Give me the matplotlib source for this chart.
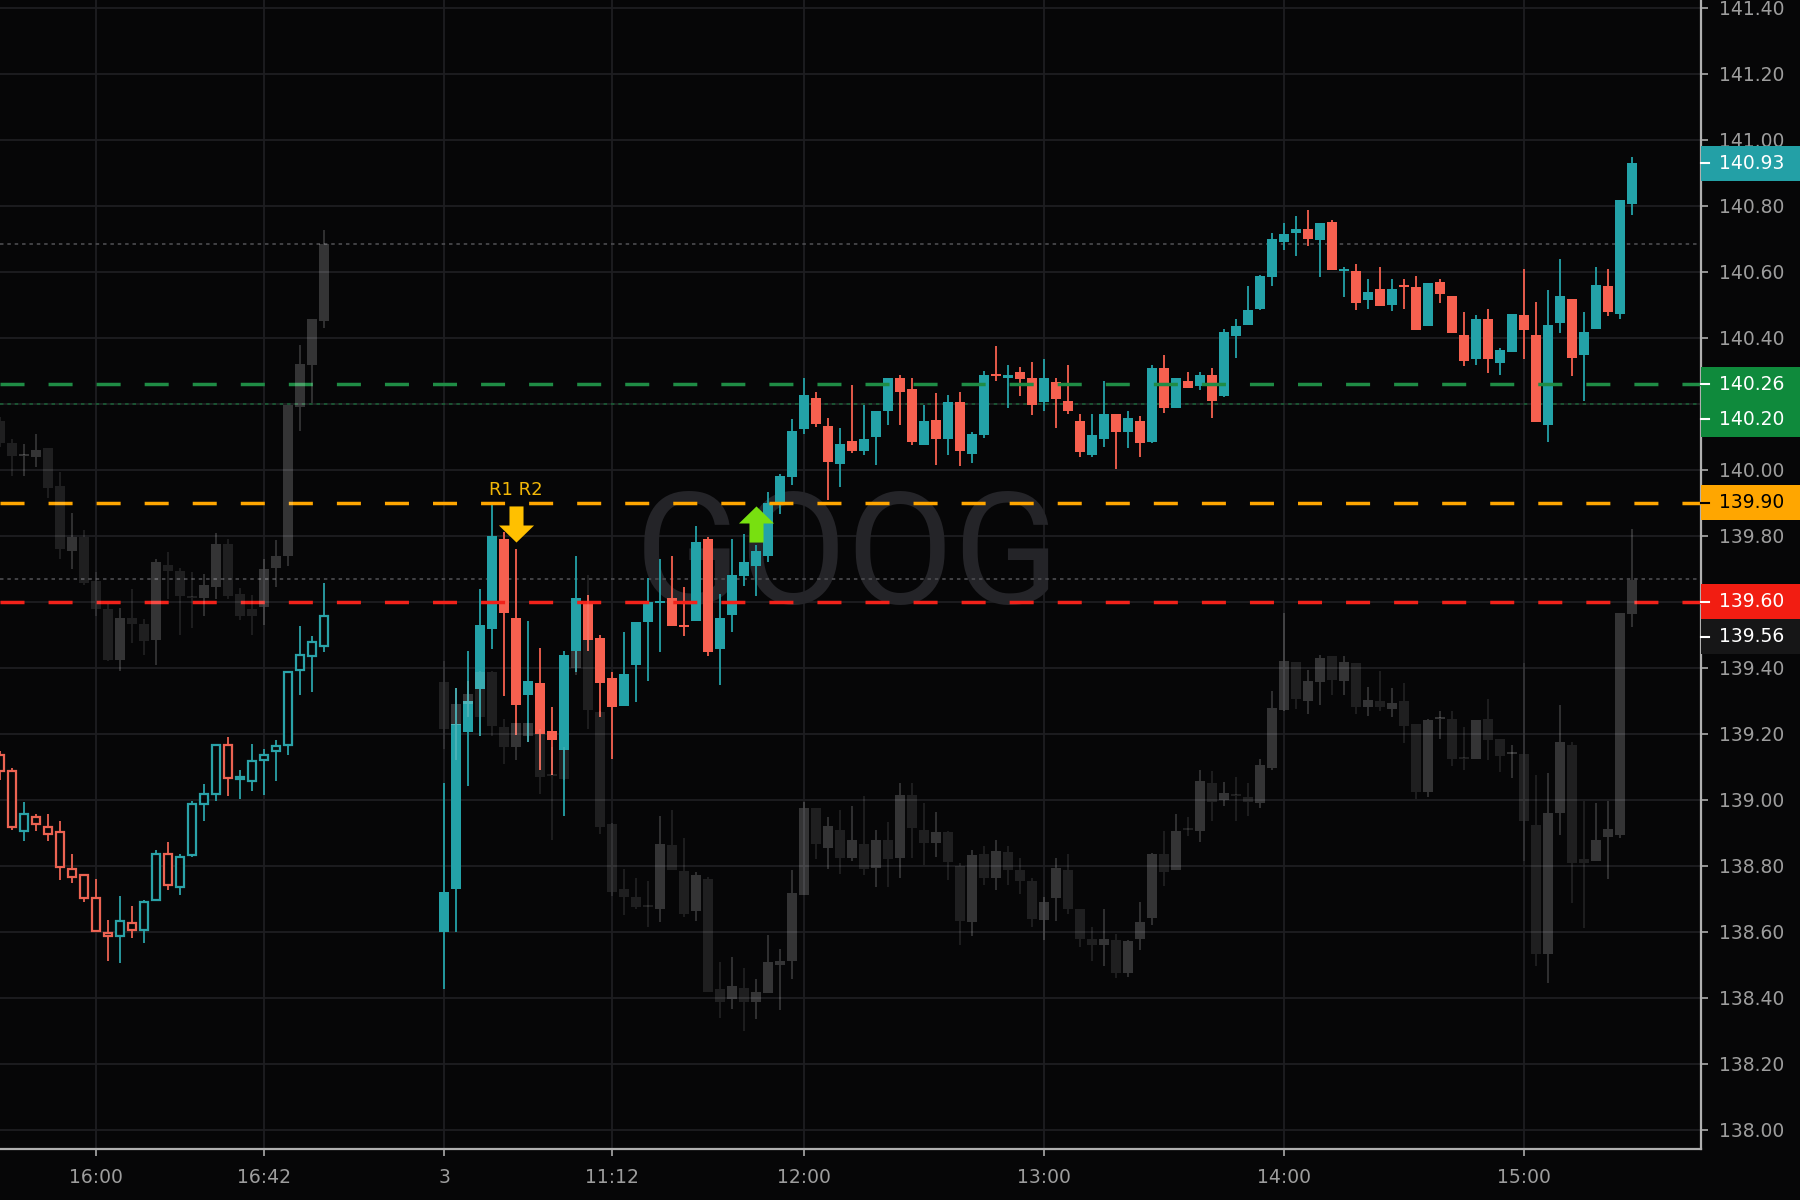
import numpy as np
import matplotlib
matplotlib.use("Agg")
import matplotlib.pyplot as plt
from matplotlib.patches import Rectangle
from matplotlib.path import Path
from matplotlib.transforms import blended_transform_factory

plt.rcParams['lines.scale_dashes'] = False
plt.rcParams['font.family'] = ['DejaVu Sans']

# ---- previous session (hollow candles), bars -37 .. -10
prev_x = list(range(-37, -9))
prev_open = [139.137, 139.087, 138.907, 138.948, 138.917, 138.903, 138.791, 138.773, 138.702, 138.597,
             138.587, 138.627, 138.605, 138.696, 138.836, 138.736, 138.834, 138.988, 139.018, 139.166,
             139.063, 139.057, 139.120, 139.147, 139.166, 139.393, 139.435, 139.466]
prev_high = [139.147, 139.097, 138.993, 138.958, 138.958, 138.937, 138.837, 138.776, 138.759, 138.637,
             138.708, 138.678, 138.698, 138.849, 138.873, 138.837, 138.996, 139.049, 139.166, 139.190,
             139.092, 139.168, 139.153, 139.180, 139.388, 139.528, 139.498, 139.657]
prev_low = [139.060, 138.908, 138.875, 138.905, 138.875, 138.757, 138.747, 138.690, 138.602, 138.511,
            138.506, 138.582, 138.567, 138.696, 138.726, 138.711, 138.827, 138.935, 138.996, 139.011,
            139.004, 139.026, 139.016, 139.057, 139.135, 139.319, 139.326, 139.449]
prev_close = [139.087, 138.917, 138.958, 138.928, 138.897, 138.797, 138.767, 138.703, 138.602, 138.589,
              138.632, 138.607, 138.691, 138.836, 138.741, 138.827, 138.988, 139.018, 139.166, 139.065,
              139.066, 139.117, 139.135, 139.162, 139.388, 139.438, 139.478, 139.556]

# comparison symbol, previous session
cmp_prev_open = [140.148, 140.080, 140.042, 140.039, 140.067, 139.951, 139.755, 139.797, 139.664, 139.577,
                 139.425, 139.552, 139.534, 139.484, 139.711, 139.694, 139.615, 139.611, 139.646, 139.775,
                 139.625, 139.578, 139.583, 139.702, 139.739, 140.191, 140.319, 140.452]
cmp_prev_high = [140.160, 140.095, 140.078, 140.108, 140.067, 139.994, 139.868, 139.819, 139.691, 139.593,
                 139.580, 139.640, 139.548, 139.729, 139.752, 139.704, 139.691, 139.684, 139.810, 139.790,
                 139.643, 139.620, 139.729, 139.787, 140.197, 140.378, 140.457, 140.726]
cmp_prev_low = [140.070, 139.982, 139.982, 140.009, 139.915, 139.729, 139.699, 139.650, 139.558, 139.420,
                139.390, 139.476, 139.440, 139.410, 139.608, 139.500, 139.520, 139.558, 139.608, 139.608,
                139.545, 139.500, 139.530, 139.646, 139.709, 140.118, 140.203, 140.430]
cmp_prev_close = [140.083, 140.042, 140.044, 140.060, 139.945, 139.759, 139.797, 139.656, 139.578, 139.425,
                  139.552, 139.532, 139.481, 139.721, 139.694, 139.618, 139.613, 139.651, 139.775, 139.618,
                  139.558, 139.558, 139.699, 139.739, 140.196, 140.320, 140.457, 140.684]

# ---- today, bars 0 .. 99
day_x = list(range(0, 100))
day_open = [138.599, 138.730, 139.207, 139.336, 139.518, 139.791, 139.550, 139.319, 139.353, 139.210,
            139.150, 139.450, 139.601, 139.490, 139.369, 139.286, 139.410, 139.538, 139.598, 139.611,
            139.531, 139.543, 139.791, 139.458, 139.559, 139.677, 139.710, 139.740, 139.897, 139.978,
            140.123, 140.217, 140.133, 140.018, 140.088, 140.056, 140.101, 140.177, 140.280, 140.245,
            140.076, 140.152, 140.093, 140.207, 140.048, 140.106, 140.288, 140.278, 140.296, 140.278,
            140.207, 140.266, 140.209, 140.149, 140.046, 140.094, 140.170, 140.116, 140.149, 140.086,
            140.308, 140.187, 140.270, 140.253, 140.288, 140.225, 140.407, 140.440, 140.487, 140.586,
            140.692, 140.717, 140.730, 140.697, 140.750, 140.603, 140.603, 140.515, 140.548, 140.500,
            140.556, 140.555, 140.436, 140.569, 140.527, 140.409, 140.336, 140.458, 140.325, 140.356,
            140.470, 140.409, 140.136, 140.446, 140.518, 140.347, 140.426, 140.558, 140.472, 140.806]
day_high = [139.050, 139.340, 139.450, 139.639, 139.897, 139.811, 139.761, 139.543, 139.460, 139.281,
            139.452, 139.740, 139.621, 139.500, 139.387, 139.510, 139.540, 139.672, 139.730, 139.740,
            139.644, 139.831, 139.796, 139.624, 139.791, 139.806, 139.771, 139.933, 139.988, 140.154,
            140.278, 140.237, 140.157, 140.126, 140.258, 140.197, 140.179, 140.278, 140.288, 140.278,
            140.197, 140.232, 140.227, 140.237, 140.116, 140.301, 140.374, 140.318, 140.311, 140.326,
            140.335, 140.278, 140.318, 140.170, 140.170, 140.268, 140.170, 140.177, 140.162, 140.318,
            140.349, 140.278, 140.296, 140.296, 140.308, 140.426, 140.457, 140.558, 140.590, 140.719,
            140.747, 140.770, 140.788, 140.747, 140.757, 140.616, 140.624, 140.579, 140.614, 140.579,
            140.579, 140.588, 140.566, 140.579, 140.527, 140.478, 140.470, 140.487, 140.369, 140.473,
            140.609, 140.508, 140.545, 140.639, 140.518, 140.478, 140.614, 140.608, 140.818, 140.949]
day_low = [138.427, 138.600, 139.043, 139.195, 139.458, 139.316, 139.197, 139.175, 139.090, 139.074,
           138.950, 139.387, 139.450, 139.250, 139.124, 139.286, 139.298, 139.359, 139.449, 139.528,
           139.497, 139.543, 139.437, 139.348, 139.510, 139.649, 139.619, 139.720, 139.867, 139.955,
           140.110, 140.130, 139.910, 139.948, 140.050, 140.046, 140.015, 140.136, 140.136, 140.076,
           140.076, 140.015, 140.046, 140.012, 140.022, 140.096, 140.268, 140.187, 140.224, 140.167,
           140.177, 140.126, 140.170, 140.038, 140.038, 140.069, 140.004, 140.066, 140.038, 140.081,
           140.172, 140.187, 140.248, 140.242, 140.157, 140.220, 140.338, 140.440, 140.485, 140.556,
           140.667, 140.647, 140.677, 140.586, 140.606, 140.525, 140.485, 140.487, 140.498, 140.483,
           140.487, 140.424, 140.436, 140.507, 140.416, 140.315, 140.318, 140.295, 140.288, 140.356,
           140.336, 140.146, 140.086, 140.416, 140.286, 140.210, 140.426, 140.467, 140.457, 140.771]
day_close = [138.720, 139.230, 139.299, 139.530, 139.799, 139.567, 139.288, 139.360, 139.200, 139.180,
             139.440, 139.611, 139.483, 139.355, 139.281, 139.382, 139.538, 139.599, 139.600, 139.528,
             139.523, 139.780, 139.449, 139.550, 139.682, 139.722, 139.753, 139.900, 139.983, 140.118,
             140.227, 140.138, 140.025, 140.079, 140.056, 140.094, 140.179, 140.278, 140.237, 140.086,
             140.149, 140.093, 140.207, 140.056, 140.108, 140.288, 140.286, 140.288, 140.275, 140.197,
             140.278, 140.215, 140.177, 140.053, 140.106, 140.170, 140.116, 140.157, 140.081, 140.308,
             140.187, 140.278, 140.248, 140.288, 140.210, 140.419, 140.436, 140.485, 140.588, 140.699,
             140.715, 140.730, 140.699, 140.747, 140.606, 140.606, 140.505, 140.540, 140.498, 140.548,
             140.553, 140.424, 140.566, 140.533, 140.416, 140.330, 140.458, 140.336, 140.364, 140.473,
             140.424, 140.146, 140.439, 140.527, 140.340, 140.417, 140.561, 140.477, 140.818, 140.930]

cmp_open = [139.357, 139.228, 139.290, 139.387, 139.389, 139.220, 139.160, 139.195, 139.200, 139.075,
            139.150, 139.400, 139.483, 139.266, 138.927, 138.730, 138.707, 138.676, 138.670, 138.864,
            138.783, 138.662, 138.759, 138.427, 138.397, 138.429, 138.387, 138.415, 138.500, 138.513,
            138.712, 138.975, 138.855, 138.909, 138.825, 138.866, 138.795, 138.878, 138.825, 139.015,
            138.910, 138.870, 138.902, 138.799, 138.631, 138.836, 138.763, 138.841, 138.786, 138.754,
            138.637, 138.702, 138.786, 138.668, 138.577, 138.561, 138.574, 138.476, 138.577, 138.641,
            138.836, 138.786, 138.910, 138.906, 139.052, 139.001, 139.014, 139.008, 138.990, 139.096,
            139.271, 139.417, 139.301, 139.357, 139.435, 139.359, 139.415, 139.282, 139.301, 139.274,
            139.301, 139.231, 139.023, 139.245, 139.246, 139.126, 139.125, 139.246, 139.183, 139.138,
            139.140, 138.925, 138.533, 138.961, 139.165, 138.821, 138.814, 138.888, 138.893, 139.562]
cmp_high = [139.420, 139.340, 139.360, 139.390, 139.390, 139.245, 139.232, 139.232, 139.215, 139.160,
            139.160, 139.450, 139.680, 139.270, 138.930, 138.791, 138.763, 138.755, 138.951, 138.968,
            138.884, 138.781, 138.766, 138.510, 138.523, 138.492, 138.456, 138.591, 138.548, 138.786,
            138.995, 138.975, 138.947, 138.969, 138.981, 139.011, 138.909, 138.933, 139.050, 139.051,
            138.991, 138.963, 138.907, 138.810, 138.848, 138.860, 138.879, 138.860, 138.824, 138.764,
            138.705, 138.824, 138.836, 138.670, 138.614, 138.670, 138.594, 138.575, 138.692, 138.840,
            138.907, 138.958, 138.947, 139.092, 139.089, 139.054, 139.070, 139.050, 139.124, 139.330,
            139.565, 139.417, 139.394, 139.439, 139.435, 139.435, 139.415, 139.342, 139.390, 139.340,
            139.355, 139.231, 139.246, 139.270, 139.270, 139.221, 139.243, 139.307, 139.183, 139.165,
            139.415, 139.074, 139.080, 139.289, 139.175, 138.996, 138.990, 138.996, 139.565, 139.822]
cmp_low = [139.155, 139.120, 139.250, 139.195, 139.195, 139.109, 139.122, 139.175, 139.018, 138.877,
           139.060, 139.377, 139.215, 138.897, 138.710, 138.650, 138.670, 138.614, 138.631, 138.786,
           138.644, 138.634, 138.417, 138.338, 138.367, 138.301, 138.336, 138.415, 138.362, 138.456,
           138.712, 138.820, 138.790, 138.774, 138.815, 138.772, 138.737, 138.737, 138.764, 138.823,
           138.803, 138.826, 138.756, 138.559, 138.589, 138.743, 138.728, 138.743, 138.715, 138.614,
           138.574, 138.634, 138.655, 138.554, 138.513, 138.496, 138.460, 138.463, 138.546, 138.621,
           138.738, 138.786, 138.890, 138.872, 138.937, 138.981, 138.937, 138.950, 138.975, 139.090,
           139.270, 139.276, 139.259, 139.288, 139.318, 139.318, 139.259, 139.254, 139.270, 139.250,
           139.171, 139.004, 139.010, 139.186, 139.103, 139.090, 139.125, 139.120, 139.084, 139.065,
           138.814, 138.498, 138.445, 138.895, 138.686, 138.612, 138.814, 138.761, 138.885, 139.524]
cmp_close = [139.215, 139.290, 139.320, 139.250, 139.223, 139.160, 139.232, 139.232, 139.069, 139.072,
             139.064, 139.450, 139.271, 138.917, 138.720, 138.705, 138.675, 138.675, 138.867, 138.786,
             138.655, 138.771, 138.417, 138.387, 138.437, 138.387, 138.419, 138.510, 138.513, 138.718,
             138.974, 138.866, 138.921, 138.825, 138.878, 138.790, 138.878, 138.820, 139.014, 138.914,
             138.870, 138.902, 138.811, 138.634, 138.833, 138.763, 138.844, 138.786, 138.753, 138.639,
             138.692, 138.793, 138.668, 138.577, 138.561, 138.577, 138.476, 138.571, 138.631, 138.836,
             138.781, 138.907, 138.908, 139.056, 138.995, 139.020, 139.012, 138.995, 139.106, 139.278,
             139.420, 139.306, 139.360, 139.429, 139.362, 139.417, 139.282, 139.304, 139.282, 139.294,
             139.225, 139.023, 139.241, 139.247, 139.125, 139.124, 139.243, 139.180, 139.132, 139.140,
             138.935, 138.533, 138.961, 139.176, 138.809, 138.809, 138.877, 138.912, 139.565, 139.665]

# horizontal levels
level_green = 140.26
level_orange = 139.90
level_red = 139.60
dotted_gray = [140.686, 139.668]
dotted_green = 140.20

# signals: bar index, price of the arrow centre
signal_down = (6, 139.836)
signal_up = (26, 139.836)
signal_text = (6, 139.94, "R1 R2")

# price tags on the right scale
tags = [("140.93", 140.93, "#23a0a6", "white"),
        ("140.26", 140.26, "#0f8a3c", "white"),
        ("140.20", 140.20, "#0f8a3c", "white"),
        ("139.90", 139.90, "#ffa600", "black"),
        ("139.60", 139.60, "#f21d12", "white"),
        ("139.56", 139.56, "#161617", "white")]

tick_pos = [-29, -15, 0, 14, 30, 50, 70, 90]
tick_lbl = ["16:00", "16:42", "3", "11:12", "12:00", "13:00", "14:00", "15:00"]
price_ticks = np.round(np.arange(138.0, 141.41, 0.2), 2)
hidden_ticks = [140.20, 139.60]   # sit under the price tags

BG = "#060607"
UP = "#23a2a8"
DN = "#f6604f"

fig = plt.figure(figsize=(18, 12), dpi=100, facecolor=BG)
ax = fig.add_axes([0, 1 - 1149 / 1200, 1701 / 1800, 1149 / 1200])
ax.set_facecolor(BG)
ax.set_xlim(-37.0, 104.75)
ax.set_ylim(137.942, 141.424)

# grid
ax.set_xticks(tick_pos)
ax.set_xticklabels(tick_lbl)
ax.set_yticks(price_ticks)
ax.set_yticklabels(["" if t in hidden_ticks else "%.2f" % t for t in price_ticks])
ax.grid(True, color="#1e1e21", lw=1.3, zorder=0)
ax.set_axisbelow(True)
ax.yaxis.tick_right()
ax.tick_params(colors="#9d9d9d", labelsize=13.5, length=5, width=1.3)
ax.tick_params(axis="y", pad=8)
ax.tick_params(axis="x", pad=9)
for s in ["top", "left"]:
    ax.spines[s].set_visible(False)
for s in ["right", "bottom"]:
    ax.spines[s].set_color("#b0b0b0")
    ax.spines[s].set_linewidth(1.6)

# watermark
ax.text(0.498, 1 - 603 / 1149, "GOOG", transform=ax.transAxes, ha="center", va="baseline",
        fontsize=112, color="#242428", family=["Roboto", "DejaVu Sans"], zorder=1)

# hollow candles of previous session
po, ph, pl, pc = map(np.array, (prev_open, prev_high, prev_low, prev_close))
pcol = np.where(pc >= po, "#2aa2a8", "#ec6352")
ax.vlines(prev_x, pl, ph, colors=pcol, lw=1.3, zorder=2)
ax.bar(prev_x, np.maximum(np.abs(pc - po), 0.006), bottom=np.minimum(po, pc), width=0.72,
       facecolor=BG, edgecolor=pcol, linewidth=1.6, zorder=3)

# filled candles of today
do, dh, dl, dc = map(np.array, (day_open, day_high, day_low, day_close))
dcol = np.where(dc >= do, UP, DN)
ax.vlines(day_x, dl, dh, colors=dcol, lw=1.3, zorder=2)
ax.bar(day_x, np.maximum(np.abs(dc - do), 0.006), bottom=np.minimum(do, dc), width=0.8,
       color=dcol, linewidth=0, zorder=3)

# level lines
ax.axhline(level_green, color="#1f8c45", lw=2.5, dashes=(17.3, 17.3), zorder=4)
ax.axhline(level_orange, color="#ffa600", lw=2.5, dashes=(17.3, 17.3), zorder=4)
ax.axhline(level_red, color="#f2221a", lw=2.5, dashes=(17.3, 17.3), zorder=4)
for lv in dotted_gray:
    ax.axhline(lv, color="#4c4c50", lw=1.2, dashes=(2.5, 2.8), zorder=1.5)
ax.axhline(dotted_green, color="#1a5e36", lw=1.2, dashes=(2.5, 2.8), zorder=1.5)

# comparison symbol, translucent grey on top
def ghost(xs, o, h, l, c):
    o, h, l, c = map(np.array, (o, h, l, c))
    a = np.where(c >= o, 0.19, 0.10)
    cols = [(1, 1, 1, v) for v in a]
    top = np.maximum(o, c)
    bot = np.minimum(o, c)
    ax.vlines(xs, top, h, colors=cols, lw=1.3, zorder=5)
    ax.vlines(xs, l, bot, colors=cols, lw=1.3, zorder=5)
    ax.bar(xs, np.maximum(top - bot, 0.006), bottom=bot, width=0.8, color=cols, linewidth=0, zorder=5)

ghost(prev_x, cmp_prev_open, cmp_prev_high, cmp_prev_low, cmp_prev_close)
ghost(day_x, cmp_open, cmp_high, cmp_low, cmp_close)

# arrows
down_arrow = Path([(-7, 18), (7, 18), (7, -1), (17.5, -1), (0, -18), (-17.5, -1), (-7, -1), (-7, 18)])
up_arrow = Path([(-7, -18), (7, -18), (7, 1), (17.5, 1), (0, 18), (-17.5, 1), (-7, 1), (-7, -18)])
ax.plot(*signal_down, marker=down_arrow, markersize=26, color="#ffc000", mew=0, zorder=6)
ax.plot(*signal_up, marker=up_arrow, markersize=26, color="#78e010", mew=0, zorder=6)
ax.text(signal_text[0], signal_text[1], signal_text[2], ha="center", va="center",
        fontsize=13, color="#f2b707", zorder=6)

# right scale price tags
trans = blended_transform_factory(ax.transAxes, ax.transData)
h = 35 / 330
w = 99 / 1701
prev_c = None
for txt, price, bg, fg in tags:
    c = price
    if prev_c is not None and prev_c - c < h:
        c = prev_c - h
    prev_c = c
    ax.add_patch(Rectangle((1.0, c - h / 2), w, h, transform=trans, facecolor=bg,
                           edgecolor="none", clip_on=False, zorder=10))
    ax.plot([1.0, 1.0 + 8 / 1701], [c, c], transform=trans, color=fg, lw=1.5,
            clip_on=False, zorder=11)
    ax.text(1.0 + 18 / 1701, c, txt, transform=trans, ha="left", va="center",
            fontsize=13.5, color=fg, clip_on=False, zorder=11)

fig.savefig("out.png", dpi=100, facecolor=BG)
